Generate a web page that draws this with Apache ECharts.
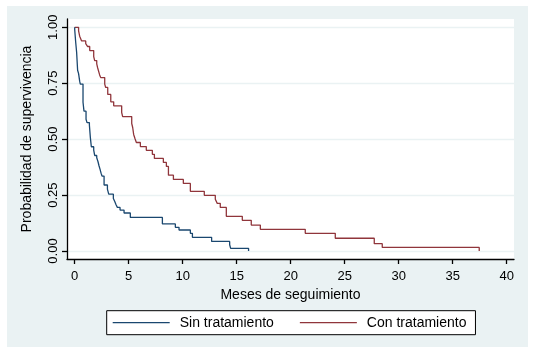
<!DOCTYPE html>
<html>
<head>
<meta charset="utf-8">
<script src="https://cdn.jsdelivr.net/npm/echarts@6/dist/echarts.min.js"></script>
<style>html,body{margin:0;padding:0;background:#fff;}#c{width:538px;height:347px;}</style>
</head>
<body>
<div id="c"></div>
<script>
// Kaplan-Meier estimates
const blueT = [0, 0, 0.09, 0.18, 0.27, 0.36, 0.46, 0.52, 0.77, 0.86, 1.05, 1.14, 1.36, 1.45, 1.54, 1.76, 1.85, 2.04, 2.16, 2.25, 2.35, 2.44, 2.53, 2.72, 3.03, 3.15, 3.58, 3.70, 3.83, 3.95, 4.20, 4.57, 5.15, 8.12, 9.32, 9.66, 10.71, 10.90, 12.68, 14.35, 14.44, 16.10];
const blueS = [1, 0.99, 0.934, 0.887, 0.808, 0.793, 0.759, 0.746, 0.665, 0.625, 0.589, 0.574, 0.563, 0.507, 0.466, 0.451, 0.427, 0.417, 0.399, 0.381, 0.365, 0.348, 0.335, 0.295, 0.277, 0.254, 0.235, 0.222, 0.207, 0.195, 0.183, 0.170, 0.150, 0.121, 0.106, 0.094, 0.079, 0.061, 0.043, 0.028, 0.012, 0];
const redT = [0, 0.36, 0.46, 0.64, 1.02, 1.20, 1.39, 1.76, 1.85, 2.04, 2.13, 2.31, 2.41, 2.78, 2.87, 3.06, 3.34, 3.61, 4.35, 4.44, 5.28, 5.37, 5.46, 5.58, 5.71, 6.08, 6.63, 7.19, 7.38, 8.21, 8.49, 8.68, 9.14, 10.06, 10.71, 12.0, 13.02, 13.2, 13.48, 14.04, 15.52, 16.35, 17.19, 21.35, 24.13, 27.74, 28.48, 37.46];
const redS = [1, 0.984, 0.96, 0.939, 0.927, 0.914, 0.896, 0.869, 0.851, 0.836, 0.818, 0.787, 0.775, 0.746, 0.731, 0.700, 0.667, 0.649, 0.619, 0.601, 0.570, 0.552, 0.521, 0.503, 0.485, 0.467, 0.450, 0.432, 0.414, 0.396, 0.378, 0.339, 0.320, 0.302, 0.267, 0.249, 0.231, 0.213, 0.195, 0.155, 0.137, 0.116, 0.097, 0.079, 0.057, 0.033, 0.016, 0];
const seriesNames = ['Sin tratamiento', 'Con tratamiento'];
const xTicks = [0, 5, 10, 15, 20, 25, 30, 35, 40];
const yTicks = [0, 0.25, 0.5, 0.75, 1];
const xTitle = 'Meses de seguimiento';
const yTitle = 'Probabilidad de supervivencia';

const zip = (a, b) => a.map((v, i) => [v, b[i]]);
const FONT = 'Liberation Sans, Arial, sans-serif';

const chart = echarts.init(document.getElementById('c'), null, {renderer: 'canvas'});
chart.setOption({
  animation: false,
  backgroundColor: '#ffffff',
  graphic: [{
    type: 'rect', z: -10, left: 7, top: 6,
    shape: {width: 521, height: 341},
    style: {fill: '#EAF2F3'}
  }],
  grid: {
    left: 67, right: 24, top: 19, bottom: 88,
    show: true, backgroundColor: '#ffffff', borderWidth: 0
  },
  xAxis: {
    type: 'value', min: -0.713, max: 40.68,
    name: xTitle, nameLocation: 'middle', nameGap: 28,
    nameTextStyle: {fontFamily: FONT, fontSize: 14, color: '#000'},
    axisLine: {show: true, onZero: false, lineStyle: {color: '#000', width: 1.3}},
    axisTick: {show: true, length: 5, customValues: xTicks, lineStyle: {color: '#000', width: 1.3}},
    axisLabel: {customValues: xTicks, margin: 11, fontFamily: FONT, fontSize: 13, color: '#000'},
    splitLine: {show: false}
  },
  yAxis: {
    type: 'value', min: -0.0357, max: 1.037,
    name: yTitle, nameLocation: 'middle', nameGap: 33,
    nameTextStyle: {fontFamily: FONT, fontSize: 14, color: '#000'},
    axisLine: {show: true, onZero: false, lineStyle: {color: '#000', width: 1.3}},
    axisTick: {show: true, length: 5, customValues: yTicks, lineStyle: {color: '#000', width: 1.3}},
    axisLabel: {customValues: yTicks, rotate: 90, margin: 7, fontFamily: FONT, fontSize: 13, color: '#000',
      formatter: v => v.toFixed(2)},
    splitLine: {show: true, customValues: yTicks, lineStyle: {color: '#EAF2F3', width: 1.3}}
  },
  legend: {
    left: 106.7, top: 310.7,
    orient: 'horizontal',
    backgroundColor: '#ffffff', borderColor: '#000', borderWidth: 1,
    padding: [4, 9, 4, 6],
    icon: 'rect',
    itemWidth: 57, itemHeight: 1.3, itemGap: 26,
    textStyle: {fontFamily: FONT, fontSize: 14, lineHeight: 16, color: '#000', padding: [0, 0, 0, 5]},
    data: seriesNames
  },
  series: [
    {
      name: seriesNames[0], type: 'line', step: 'end', symbol: 'none',
      lineStyle: {color: '#1A476F', width: 1.3}, itemStyle: {color: '#1A476F'},
      data: zip(blueT, blueS), z: 3
    },
    {
      name: seriesNames[1], type: 'line', step: 'end', symbol: 'none',
      lineStyle: {color: '#90353B', width: 1.3}, itemStyle: {color: '#90353B'},
      data: zip(redT, redS), z: 2
    }
  ]
});
</script>
</body>
</html>
